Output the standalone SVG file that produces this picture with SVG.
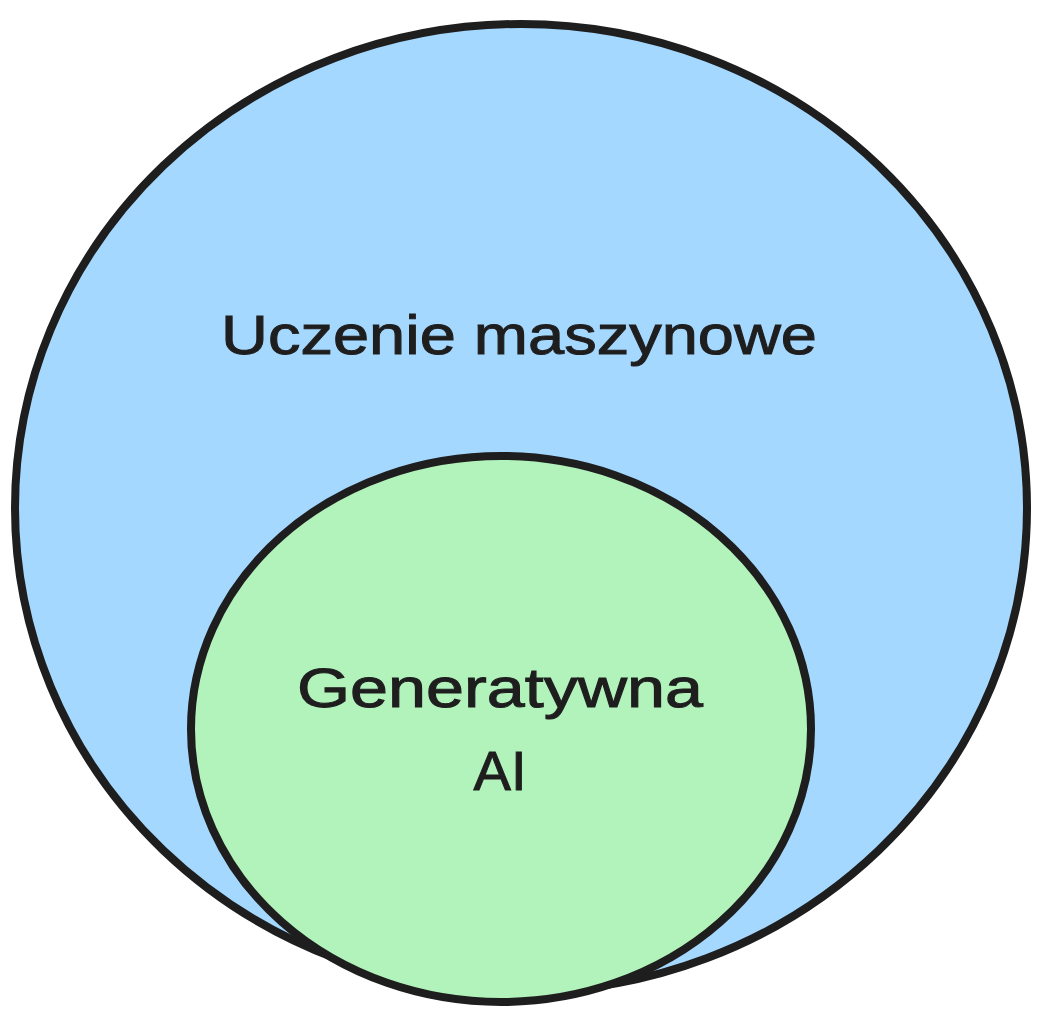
<svg xmlns="http://www.w3.org/2000/svg" width="1039" height="1024" viewBox="0 0 1039 1024">
<style>
.shape{stroke:#1e1e1e;stroke-width:8;}
.lbl{font-family:"Liberation Sans","DejaVu Sans",sans-serif;fill:#1e1e1e;stroke:#1e1e1e;stroke-width:1;text-anchor:middle;font-size:56px;}
</style>
<rect width="1039" height="1024" fill="#ffffff"/>
<g id="node-ml">
<ellipse class="shape" cx="521" cy="508" rx="506" ry="484" fill="#a5d8ff"/>
<text class="lbl" x="519" y="354" textLength="596" lengthAdjust="spacingAndGlyphs">Uczenie maszynowe</text>
</g>
<g id="node-genai">
<ellipse class="shape" cx="501" cy="729" rx="310" ry="273" fill="#b2f2bb"/>
<text class="lbl" x="500" y="707" textLength="406" lengthAdjust="spacingAndGlyphs">Generatywna</text>
<text class="lbl" x="500" y="790">AI</text>
</g>
<g id="connectors"></g>
</svg>
